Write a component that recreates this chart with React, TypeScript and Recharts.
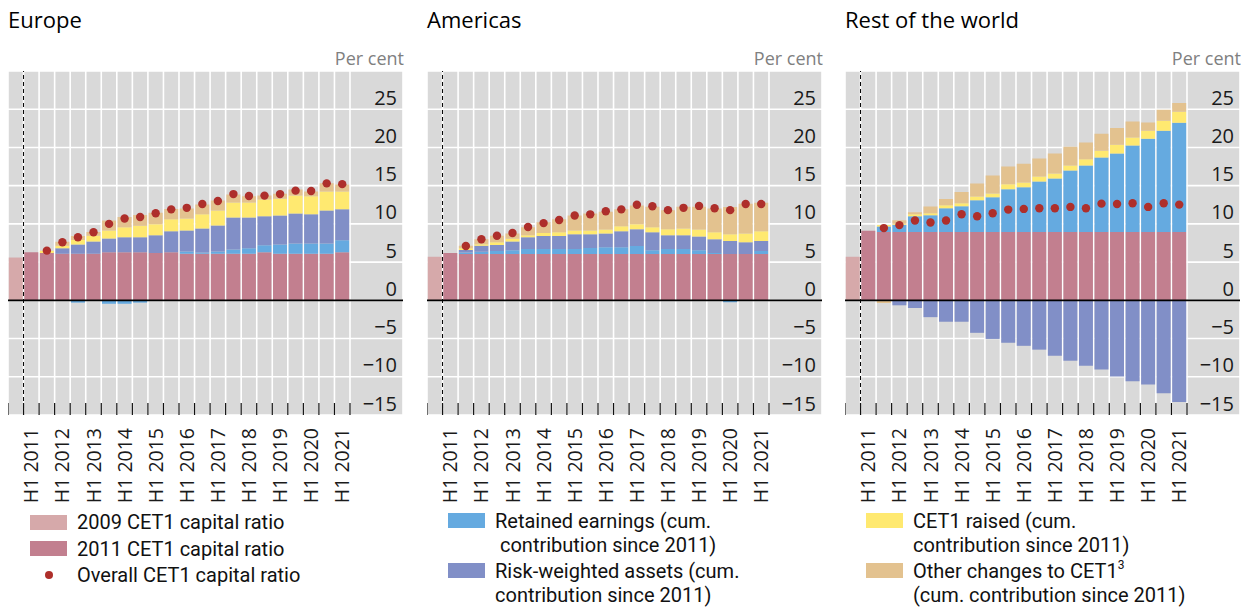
import React from 'react';
import {
  ComposedChart,
  Bar,
  Line,
  XAxis,
  YAxis,
  CartesianGrid,
  ReferenceLine,
} from 'recharts';

const periods = [
  '2009', 'H1 2011', 'H2 2011', 'H1 2012', 'H2 2012', 'H1 2013', 'H2 2013', 'H1 2014', 'H2 2014',
  'H1 2015', 'H2 2015', 'H1 2016', 'H2 2016', 'H1 2017', 'H2 2017', 'H1 2018', 'H2 2018',
  'H1 2019', 'H2 2019', 'H1 2020', 'H2 2020', 'H1 2021',
];

const valueTicks = [-15, -10, -5, 0, 5, 10, 15, 20, 25];

// Europe
const euRatio2009 = [5.6, null, null, null, null, null, null, null, null, null, null, null, null, null, null, null, null, null, null, null, null, null];
const euRatio2011 = [null, 6.3, 6.2, 6.1, 6.1, 6.1, 6.3, 6.3, 6.3, 6.2, 6.3, 6.1, 6.1, 6.1, 6.1, 6.1, 6.3, 6.1, 6.1, 6.1, 6.1, 6.3];
const euRetained = [null, 0, 0, 0, -0.3, 0, -0.45, -0.45, -0.3, 0, 0, 0.3, 0.15, 0.3, 0.55, 0.7, 0.9, 1.2, 1.35, 1.35, 1.35, 1.55];
const euRwa = [null, 0, 0, 0.7, 1.2, 1.6, 1.8, 1.95, 1.95, 2.3, 2.75, 2.75, 3.15, 3.4, 4.2, 4.05, 3.8, 3.8, 3.9, 3.8, 4.3, 4.05];
const euRaised = [null, 0, 0.3, 0.35, 0.6, 0.75, 1.05, 1.3, 1.5, 1.45, 1.55, 1.55, 1.85, 1.95, 1.95, 1.95, 2.2, 2.2, 2.35, 2.35, 2.5, 2.35];
const euOther = [null, 0, 0, 0.5, 0.5, 0.5, 1.3, 1.35, 1.4, 1.5, 1.35, 1.3, 1.3, 1.3, 1.05, 0.8, 0.5, 0.65, 0.8, 0.65, 1.05, 0.9];
const euOverall = [null, null, 6.5, 7.6, 8.25, 8.9, 10.0, 10.7, 10.9, 11.4, 11.9, 12.1, 12.6, 13.0, 13.9, 13.65, 13.7, 13.9, 14.35, 14.3, 15.3, 15.2];

// Americas
const amRatio2009 = [5.7, null, null, null, null, null, null, null, null, null, null, null, null, null, null, null, null, null, null, null, null, null];
const amRatio2011 = [null, 6.2, 6.05, 6.05, 6.05, 6.05, 6.05, 6.05, 6.05, 6.05, 6.05, 6.05, 6.05, 6.05, 6.05, 6.05, 6.05, 6.05, 6.05, 6.05, 6.05, 6.05];
const amRetained = [null, 0, 0.2, 0.3, 0.4, 0.5, 0.65, 0.65, 0.65, 0.65, 0.8, 0.9, 0.9, 1.05, 0.5, 0.65, 0.65, 0.5, 0.15, -0.25, 0, 0.4];
const amRwa = [null, 0, 0.35, 0.8, 0.8, 1.15, 1.55, 1.7, 1.7, 1.95, 1.8, 1.8, 2.1, 2.2, 2.35, 1.8, 1.8, 1.8, 1.8, 1.7, 1.55, 1.3];
const amRaised = [null, 0, 0.2, 0.2, 0.35, 0.35, 0.25, 0.4, 0.5, 0.5, 0.5, 0.5, 0.65, 0.65, 0.65, 0.8, 0.9, 0.9, 0.9, 0.9, 1.15, 1.3];
const amOther = [null, 0, 0.35, 0.65, 0.85, 0.7, 1.05, 1.4, 1.7, 1.95, 2.2, 2.35, 2.2, 2.45, 2.7, 2.5, 2.85, 3.0, 3.1, 3.55, 3.9, 3.7];
const amOverall = [null, null, 7.1, 8.0, 8.45, 8.8, 9.6, 10.1, 10.5, 11.1, 11.25, 11.65, 11.9, 12.5, 12.3, 11.8, 12.1, 12.35, 12.05, 11.8, 12.6, 12.6];

// Rest of the world
const rwRatio2009 = [5.7, null, null, null, null, null, null, null, null, null, null, null, null, null, null, null, null, null, null, null, null, null];
const rwRatio2011 = [null, 9.1, 8.93, 8.93, 8.93, 8.93, 8.93, 8.93, 8.93, 8.93, 8.93, 8.93, 8.93, 8.93, 8.93, 8.93, 8.93, 8.93, 8.93, 8.93, 8.93, 8.93];
const rwRetained = [null, 0, 0.74, 0.95, 2.08, 2.2, 3.12, 3.38, 4.16, 4.55, 5.59, 5.85, 6.63, 7.02, 8.06, 8.71, 9.75, 10.27, 11.31, 12.22, 13.26, 14.3];
const rwRwa = [null, 0, 0, -0.65, -1.0, -2.2, -2.8, -2.8, -4.25, -5.05, -5.55, -5.95, -6.45, -7.25, -7.9, -8.55, -9.05, -9.95, -10.6, -11.0, -12.15, -13.3];
const rwRaised = [null, 0, 0.2, 0.15, 0.25, 0.25, 0.4, 0.4, 0.5, 0.5, 0.65, 0.65, 0.65, 0.65, 0.65, 0.8, 0.9, 1.15, 1.05, 1.05, 1.3, 1.45];
const rwOther = [null, 0, -0.35, 0.45, 0.25, 0.9, 0.8, 1.45, 1.7, 2.35, 2.35, 2.45, 2.35, 2.6, 2.45, 2.2, 2.2, 2.2, 2.1, 1.05, 1.45, 1.15];
const rwOverall = [null, null, 9.45, 9.84, 10.44, 10.18, 10.44, 11.27, 11.0, 11.4, 11.87, 11.96, 12.05, 12.05, 12.22, 12.05, 12.65, 12.61, 12.7, 12.22, 12.7, 12.52];

const colors = {
  r2009: '#d6a9aa',
  r2011: '#c27f8f',
  retained: '#65aae0',
  rwa: '#818fc7',
  raised: '#ffe970',
  other: '#e3c28f',
  dot: '#ae2f2b',
  bg: '#d9d9d9',
};

const font = '"Open Sans", sans-serif';
// tighter vertical metrics, so the closely spaced legend lines do not collide
const legendFont = 'Roboto, "Open Sans", sans-serif';

type Row = { period: string; r2009: number | null; r2011: number | null; retained: number | null; rwa: number | null; raised: number | null; other: number | null; overall: number | null };

const buildRows = (
  r2009: (number | null)[], r2011: (number | null)[], retained: (number | null)[], rwa: (number | null)[],
  raised: (number | null)[], other: (number | null)[], overall: (number | null)[],
): Row[] =>
  periods.map((period, i) => ({
    period,
    r2009: r2009[i],
    r2011: r2011[i],
    retained: retained[i],
    rwa: rwa[i],
    raised: raised[i],
    other: other[i],
    overall: overall[i],
  }));

// bar boundaries, used for the vertical grid and the small ticks at the bottom
const boundaries = [...periods.map((_, i) => i), periods.length];

const fmtValue = (v: number) => (v < 0 ? `\u2212${Math.abs(v)}` : `${v}`);

const PeriodTick = (props: any) => {
  const { x, y, payload } = props;
  const label = String(payload.value);
  if (!label.startsWith('H1')) return null;
  return (
    <text
      transform={`translate(${x},${y}) rotate(-90)`}
      textAnchor="end"
      dy="0.36em"
      fontSize={19.5}
      fontFamily={font}
      fill="#1a1a1a"
    >
      {label}
    </text>
  );
};

// short marks rising from the bottom edge at each bar boundary
const BoundaryTick = (props: any) => {
  const { x, y } = props;
  return <line x1={x} x2={x} y1={y} y2={y - 12} stroke="#111" strokeWidth={1.2} />;
};

const ValueTick = (props: any) => {
  const { x, y, payload } = props;
  return (
    <text x={x} y={y - 12} textAnchor="end" dominantBaseline="central" fontSize={20} fontFamily={font} fill="#1a1a1a">
      {fmtValue(payload.value)}
    </text>
  );
};

const PLOT_W = 395;
const AXIS_PAD = 53;

const Panel = ({ title, left, rows }: { title: string; left: number; rows: Row[] }) => (
  <div style={{ position: 'absolute', left, top: 0, width: PLOT_W, height: 510 }}>
    <div style={{ position: 'absolute', left: 0, top: 4, fontSize: 22, lineHeight: '30px', color: '#000' }}>{title}</div>
    <div style={{ position: 'absolute', right: -1, top: 46, fontSize: 18, lineHeight: '24px', color: '#808080' }}>Per cent</div>
    <ComposedChart
      width={PLOT_W}
      height={510}
      data={rows}
      stackOffset="sign"
      barCategoryGap={0.75}
      margin={{ top: 71, right: 0, left: 0, bottom: 0 }}
    >
      <CartesianGrid xAxisId="g" fill={colors.bg} fillOpacity={1} stroke="#ffffff" strokeWidth={1.6} />
      <Bar dataKey="r2009" name="2009 CET1 capital ratio" stackId="s" fill={colors.r2009} isAnimationActive={false} />
      <Bar dataKey="r2011" name="2011 CET1 capital ratio" stackId="s" fill={colors.r2011} isAnimationActive={false} />
      <Bar dataKey="retained" name="Retained earnings" stackId="s" fill={colors.retained} isAnimationActive={false} />
      <Bar dataKey="rwa" name="Risk-weighted assets" stackId="s" fill={colors.rwa} isAnimationActive={false} />
      <Bar dataKey="raised" name="CET1 raised" stackId="s" fill={colors.raised} isAnimationActive={false} />
      <Bar dataKey="other" name="Other changes to CET1" stackId="s" fill={colors.other} isAnimationActive={false} />
      <XAxis
        dataKey="period"
        interval={0}
        padding={{ left: 0, right: AXIS_PAD }}
        height={95}
        tickLine={false}
        axisLine={false}
        tickSize={0}
        tickMargin={13}
        tick={(p: any) => <PeriodTick {...p} />}
      />
      <XAxis
        xAxisId="g"
        type="number"
        dataKey="idx"
        domain={[0, periods.length]}
        allowDataOverflow
        ticks={boundaries}
        interval={0}
        padding={{ left: 0, right: AXIS_PAD }}
        height={1}
        mirror
        axisLine={false}
        tickLine={false}
        tickSize={0}
        tickMargin={0}
        tick={(p: any) => <BoundaryTick {...p} />}
      />
      <YAxis
        orientation="right"
        mirror
        domain={[-15, 30]}
        ticks={valueTicks}
        allowDataOverflow
        interval={0}
        tickLine={false}
        axisLine={false}
        tickSize={0}
        tickMargin={6}
        tick={(p: any) => <ValueTick {...p} />}
      />
      <ReferenceLine y={0} stroke="#000" strokeWidth={1.6} />
      <ReferenceLine xAxisId="g" x={1} stroke="#000" strokeWidth={1} strokeDasharray="4 3" />
      <Line
        dataKey="overall"
        name="Overall CET1 capital ratio"
        stroke="none"
        dot={{ r: 4.2, fill: colors.dot, stroke: 'none' }}
        activeDot={false}
        isAnimationActive={false}
      />
    </ComposedChart>
  </div>
);

const LINE_H = 24;

const Swatch = ({ color }: { color: string }) => (
  <span style={{ display: 'inline-block', width: 37, height: 15, background: color, flex: 'none', marginTop: (LINE_H - 15) / 2 }} />
);

const legendText: React.CSSProperties = {
  fontFamily: legendFont,
  fontSize: 20,
  lineHeight: `${LINE_H}px`,
  color: '#111',
  whiteSpace: 'pre',
};

const LegendItem = ({ color, lines, dot, gap = 2 }: { color: string; lines: React.ReactNode[]; dot?: boolean; gap?: number }) => (
  <div style={{ display: 'flex', alignItems: 'flex-start', gap: 10, marginBottom: gap }}>
    {dot ? (
      <span style={{ width: 37, height: LINE_H, flex: 'none', display: 'flex', alignItems: 'center', justifyContent: 'center' }}>
        <span style={{ width: 8, height: 8, borderRadius: 4, background: color }} />
      </span>
    ) : (
      <Swatch color={color} />
    )}
    <div style={legendText}>
      {lines.map((l, i) => (
        <div key={i}>{l}</div>
      ))}
    </div>
  </div>
);

const App = () => {
  const eu = buildRows(euRatio2009, euRatio2011, euRetained, euRwa, euRaised, euOther, euOverall);
  const am = buildRows(amRatio2009, amRatio2011, amRetained, amRwa, amRaised, amOther, amOverall);
  const rw = buildRows(rwRatio2009, rwRatio2011, rwRetained, rwRwa, rwRaised, rwOther, rwOverall);
  return (
    <div style={{ position: 'absolute', left: 0, top: 0, width: 1250, height: 607, background: '#fff', fontFamily: font, overflow: 'hidden' }}>
      <Panel title="Europe" left={8} rows={eu} />
      <Panel title="Americas" left={427} rows={am} />
      <Panel title="Rest of the world" left={845} rows={rw} />

      <div style={{ position: 'absolute', left: 30, top: 510 }}>
        <LegendItem color={colors.r2009} gap={2.5} lines={['2009 CET1 capital ratio']} />
        <LegendItem color={colors.r2011} gap={2.5} lines={['2011 CET1 capital ratio']} />
        <LegendItem color={colors.dot} dot lines={['Overall CET1 capital ratio']} />
      </div>
      <div style={{ position: 'absolute', left: 448, top: 508.5 }}>
        <LegendItem color={colors.retained} lines={['Retained earnings (cum.', ' contribution since 2011)']} />
        <LegendItem color={colors.rwa} lines={['Risk-weighted assets (cum.', 'contribution since 2011)']} />
      </div>
      <div style={{ position: 'absolute', left: 866, top: 508.5 }}>
        <LegendItem color={colors.raised} lines={['CET1 raised (cum.', 'contribution since 2011)']} />
        <LegendItem
          color={colors.other}
          lines={[
            <span>Other changes to CET1<sup style={{ fontSize: 12, verticalAlign: 'top', lineHeight: '12px' }}>3</sup></span>,
            '(cum. contribution since 2011)',
          ]}
        />
      </div>
    </div>
  );
};

export default App;
